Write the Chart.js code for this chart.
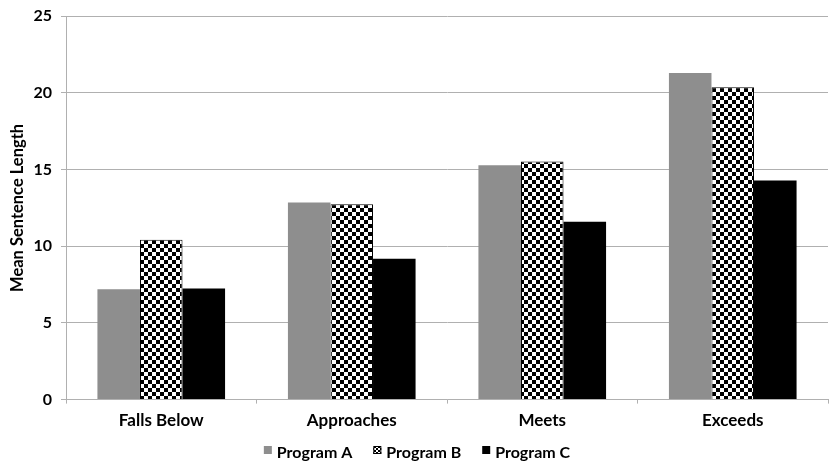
<!DOCTYPE html>
<html>
<head>
<meta charset="utf-8">
<script src="https://cdn.jsdelivr.net/npm/chart.js@4/dist/chart.umd.min.js"></script>
<style>
  html, body { margin: 0; padding: 0; background: #fff; }
  #wrap { width: 830px; height: 466px; position: relative; }
</style>
</head>
<body>
<div id="wrap"><canvas id="c" width="830" height="466"></canvas></div>
<script>
const categories = ['Falls Below', 'Approaches', 'Meets', 'Exceeds'];
const programA = [7.2, 12.85, 15.28, 21.3];
const programB = [10.42, 12.74, 15.52, 20.36];
const programC = [7.25, 9.18, 11.6, 14.28];
const seriesNames = ['Program A', 'Program B', 'Program C'];

// black-and-white checkerboard fill
function checker(size) {
  const c = document.createElement('canvas');
  c.width = size * 2; c.height = size * 2;
  const g = c.getContext('2d');
  g.fillStyle = '#fff'; g.fillRect(0, 0, size * 2, size * 2);
  g.fillStyle = '#000';
  g.fillRect(0, 0, size, size);
  g.fillRect(size, size, size, size);
  return g.createPattern(c, 'repeat');
}

const font = "Lato, 'Open Sans', sans-serif";
const gridColor = '#b0b0b0';

// one-row legend under the axis, boxes sitting beside bold labels
const bottomLegend = {
  id: 'bottomLegend',
  afterDraw(chart) {
    const ctx = chart.ctx;
    const box = 8, gapText = 5, gapItem = 21;
    ctx.save();
    ctx.font = "bold 16px " + font;
    ctx.textBaseline = 'middle';
    const items = chart.data.datasets.map(ds => ({ ds, w: ctx.measureText(ds.label).width }));
    const total = items.reduce((s, it) => s + box + gapText + it.w, 0) + gapItem * (items.length - 1);
    let x = chart.width / 2 + 2 - total / 2;
    const y = chart.height - 13;
    items.forEach(({ ds, w }) => {
      ctx.fillStyle = ds.legendFill || ds.backgroundColor;
      ctx.fillRect(x, y - box / 2 - 3, box, box);
      if (ds.borderWidth) {
        ctx.strokeStyle = '#000';
        ctx.lineWidth = 1;
        ctx.strokeRect(x + 0.5, y - box / 2 - 2.5, box - 1, box - 1);
      }
      x += box + gapText;
      ctx.fillStyle = '#000';
      ctx.fillText(ds.label, x, y);
      x += w + gapItem;
    });
    ctx.restore();
  }
};

new Chart(document.getElementById('c'), {
  type: 'bar',
  data: {
    labels: categories,
    datasets: [
      { label: seriesNames[0], data: programA, backgroundColor: '#8e8e8e', borderWidth: 0 },
      { label: seriesNames[1], data: programB, backgroundColor: checker(4), legendFill: checker(2), borderColor: '#000', borderWidth: 1 },
      { label: seriesNames[2], data: programC, backgroundColor: '#000', borderWidth: 0 }
    ]
  },
  plugins: [bottomLegend],
  options: {
    responsive: false,
    animation: false,
    devicePixelRatio: 1,
    layout: { padding: { top: 0, right: 2, left: 0, bottom: 28 } },
    datasets: { bar: { categoryPercentage: 0.67, barPercentage: 1 } },
    plugins: {
      legend: { display: false },
      tooltip: { enabled: false }
    },
    scales: {
      x: {
        grid: { display: true, drawOnChartArea: false, drawTicks: true, tickLength: 4, color: gridColor },
        border: { color: gridColor },
        ticks: { font: { family: font, size: 17, weight: 'bold' }, color: '#000', padding: 7 }
      },
      y: {
        min: 0, max: 25,
        ticks: { stepSize: 5, font: { family: font, size: 16, weight: 'bold', lineHeight: 0.9 }, color: '#000', padding: 9 },
        grid: { color: gridColor, tickLength: 5 },
        border: { color: gridColor },
        title: { display: true, text: 'Mean Sentence Length', font: { family: font, size: 16.5, weight: 'bold' }, color: '#000', padding: { top: 8, bottom: 0 } },
        afterFit: (s) => { s.width = 66; }
      }
    }
  }
});
</script>
</body>
</html>
